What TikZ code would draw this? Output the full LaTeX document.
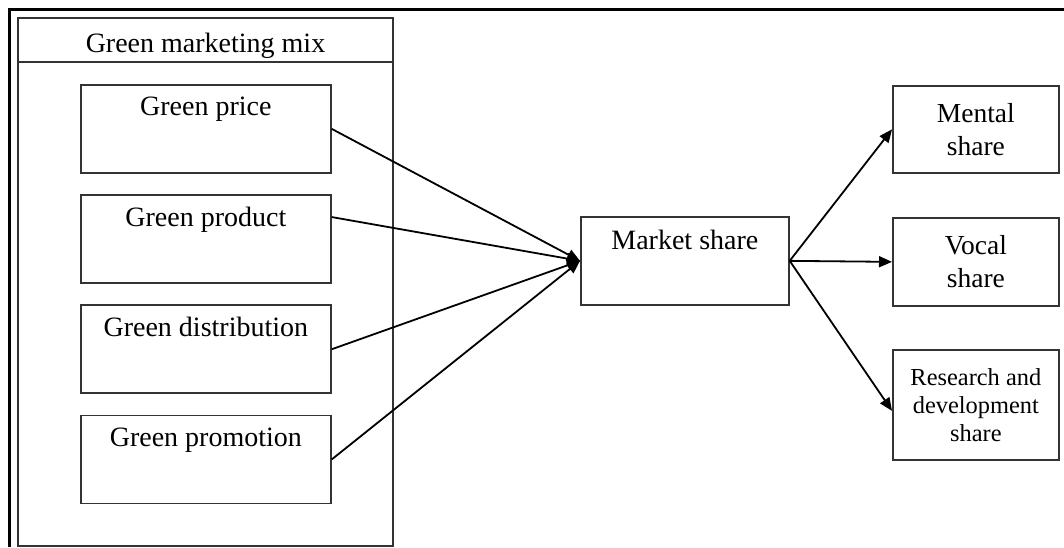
\documentclass[tikz,border=0pt]{standalone}
\usepackage{fontspec}
\setmainfont{Liberation Serif}
\usetikzlibrary{arrows.meta,positioning}

\tikzset{
  mixitem/.style={draw=black!80,line width=1.7pt,anchor=north west,minimum width=250pt,
    inner xsep=0pt,inner ysep=8pt,text height=23pt,text depth=49pt,font=\fontsize{28}{33}\selectfont},
  sharebox/.style={draw=black!80,line width=1.7pt,anchor=north west,minimum width=166pt,
    inner sep=0pt,align=center,font=\fontsize{27.5}{33}\selectfont},
  arr/.style={line width=1.8pt,-{Triangle[length=13pt,width=11pt]}}
}

\begin{document}
\begin{tikzpicture}[x=1pt,y=-1pt]
  \useasboundingbox (0,0) rectangle (1064,547);
  % outer frame (cut at right and bottom)
  \draw[line width=3pt] (9,547) -- (9,9) -- (1064,9);
  % marketing mix container
  \draw[draw=black!80,line width=1.7pt] (18,18) rectangle (393,546);
  \draw[draw=black!80,line width=1.7pt] (18,62) -- (393,62);
  \node[anchor=base,font=\fontsize{28}{33}\selectfont] (title) at (205.5,52) {Green marketing mix};

  \node[mixitem] (price) at (80,84) {Green price};
  \node[mixitem,below=20.5pt of price.south west,anchor=north west] (product) {Green product};
  \node[mixitem,below=20.5pt of product.south west,anchor=north west] (distr) {Green distribution};
  \node[mixitem,below=20.5pt of distr.south west,anchor=north west] (promo) {Green promotion};

  \node[mixitem,minimum width=208pt,text height=25pt,text depth=47pt] (market) at (580,216) {Market share};

  \node[sharebox,minimum height=87pt] (mental) at (892,85) {Mental\\share};
  \node[sharebox,minimum height=88pt] (vocal) at (892,217) {Vocal\\share};
  \node[sharebox,minimum height=110pt,font=\fontsize{24.4}{28}\selectfont] (rnd) at (892,349) {Research and\\development\\share};

  % links into market share
  \draw[arr] (price.east) -- (market.west);
  \draw[arr] ([yshift=22pt]product.east) -- (market.west);
  \draw[arr] (distr.east) -- (market.west);
  \draw[arr] (promo.east) -- (market.west);
  % links out of market share
  \draw[arr] (market.east) -- (mental.west);
  \draw[arr] (market.east) -- (vocal.west);
  \draw[arr] (market.east) -- ([yshift=-6pt]rnd.west);
\end{tikzpicture}
\end{document}
